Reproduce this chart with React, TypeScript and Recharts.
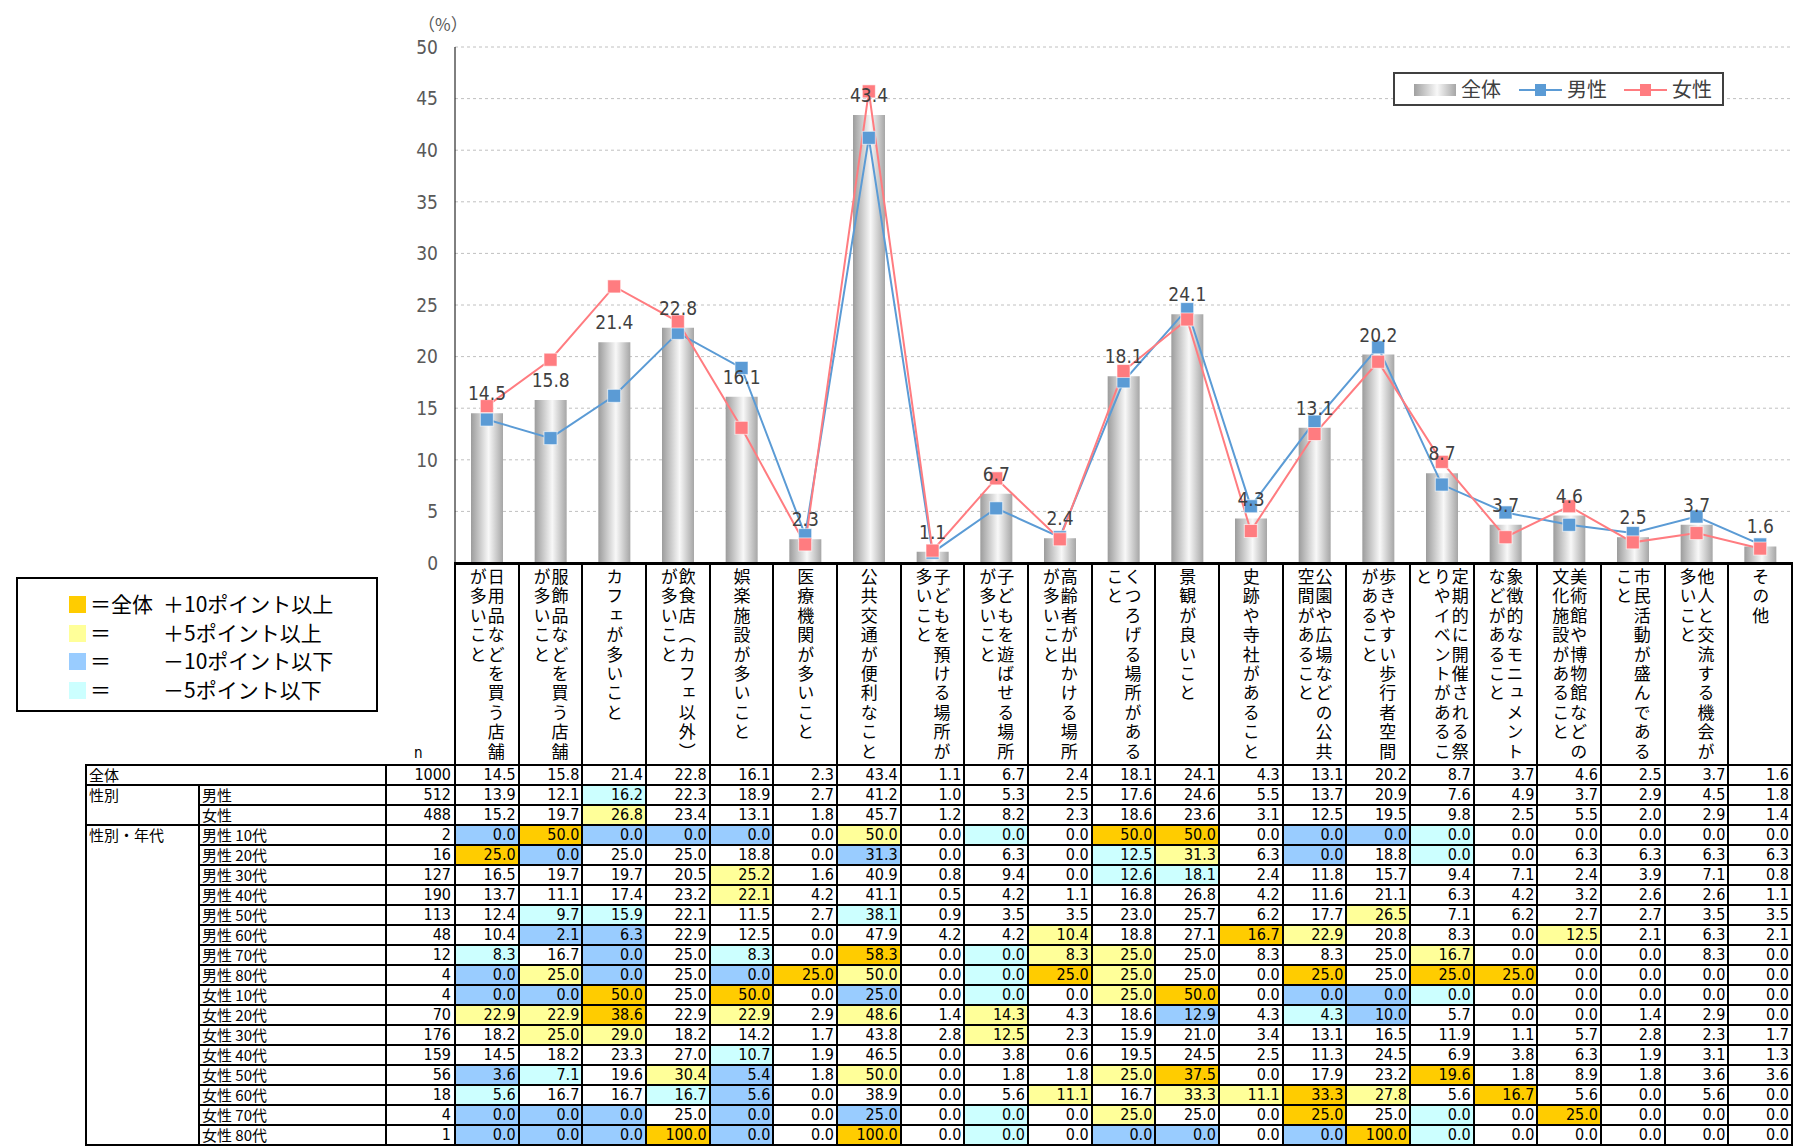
import React from 'react';
import { ComposedChart, Bar, Line, XAxis, YAxis, CartesianGrid, LabelList } from 'recharts';

const categories = [
  '日用品などを買う店舗が多いこと',
  '服飾品などを買う店舗が多いこと',
  'カフェが多いこと',
  '飲食店（カフェ以外）が多いこと',
  '娯楽施設が多いこと',
  '医療機関が多いこと',
  '公共交通が便利なこと',
  '子どもを預ける場所が多いこと',
  '子どもを遊ばせる場所が多いこと',
  '高齢者が出かける場所が多いこと',
  'くつろげる場所があること',
  '景観が良いこと',
  '史跡や寺社があること',
  '公園や広場などの公共空間があること',
  '歩きやすい歩行者空間があること',
  '定期的に開催される祭りやイベントがあること',
  '象徴的なモニュメントなどがあること',
  '美術館や博物館などの文化施設があること',
  '市民活動が盛んであること',
  '他人と交流する機会が多いこと',
  'その他',
];

const totalValues = [14.5, 15.8, 21.4, 22.8, 16.1, 2.3, 43.4, 1.1, 6.7, 2.4, 18.1, 24.1, 4.3, 13.1, 20.2, 8.7, 3.7, 4.6, 2.5, 3.7, 1.6];
const maleValues = [13.9, 12.1, 16.2, 22.3, 18.9, 2.7, 41.2, 1.0, 5.3, 2.5, 17.6, 24.6, 5.5, 13.7, 20.9, 7.6, 4.9, 3.7, 2.9, 4.5, 1.8];
const femaleValues = [15.2, 19.7, 26.8, 23.4, 13.1, 1.8, 45.7, 1.2, 8.2, 2.3, 18.6, 23.6, 3.1, 12.5, 19.5, 9.8, 2.5, 5.5, 2.0, 2.9, 1.4];
const yTicks = [0, 5, 10, 15, 20, 25, 30, 35, 40, 45, 50];

// table rows (性別・年代)
const m10 = [0.0, 50.0, 0.0, 0.0, 0.0, 0.0, 50.0, 0.0, 0.0, 0.0, 50.0, 50.0, 0.0, 0.0, 0.0, 0.0, 0.0, 0.0, 0.0, 0.0, 0.0];
const m20 = [25.0, 0.0, 25.0, 25.0, 18.8, 0.0, 31.3, 0.0, 6.3, 0.0, 12.5, 31.3, 6.3, 0.0, 18.8, 0.0, 0.0, 6.3, 6.3, 6.3, 6.3];
const m30 = [16.5, 19.7, 19.7, 20.5, 25.2, 1.6, 40.9, 0.8, 9.4, 0.0, 12.6, 18.1, 2.4, 11.8, 15.7, 9.4, 7.1, 2.4, 3.9, 7.1, 0.8];
const m40 = [13.7, 11.1, 17.4, 23.2, 22.1, 4.2, 41.1, 0.5, 4.2, 1.1, 16.8, 26.8, 4.2, 11.6, 21.1, 6.3, 4.2, 3.2, 2.6, 2.6, 1.1];
const m50 = [12.4, 9.7, 15.9, 22.1, 11.5, 2.7, 38.1, 0.9, 3.5, 3.5, 23.0, 25.7, 6.2, 17.7, 26.5, 7.1, 6.2, 2.7, 2.7, 3.5, 3.5];
const m60 = [10.4, 2.1, 6.3, 22.9, 12.5, 0.0, 47.9, 4.2, 4.2, 10.4, 18.8, 27.1, 16.7, 22.9, 20.8, 8.3, 0.0, 12.5, 2.1, 6.3, 2.1];
const m70 = [8.3, 16.7, 0.0, 25.0, 8.3, 0.0, 58.3, 0.0, 0.0, 8.3, 25.0, 25.0, 8.3, 8.3, 25.0, 16.7, 0.0, 0.0, 0.0, 8.3, 0.0];
const m80 = [0.0, 25.0, 0.0, 25.0, 0.0, 25.0, 50.0, 0.0, 0.0, 25.0, 25.0, 25.0, 0.0, 25.0, 25.0, 25.0, 25.0, 0.0, 0.0, 0.0, 0.0];
const f10 = [0.0, 0.0, 50.0, 25.0, 50.0, 0.0, 25.0, 0.0, 0.0, 0.0, 25.0, 50.0, 0.0, 0.0, 0.0, 0.0, 0.0, 0.0, 0.0, 0.0, 0.0];
const f20 = [22.9, 22.9, 38.6, 22.9, 22.9, 2.9, 48.6, 1.4, 14.3, 4.3, 18.6, 12.9, 4.3, 4.3, 10.0, 5.7, 0.0, 0.0, 1.4, 2.9, 0.0];
const f30 = [18.2, 25.0, 29.0, 18.2, 14.2, 1.7, 43.8, 2.8, 12.5, 2.3, 15.9, 21.0, 3.4, 13.1, 16.5, 11.9, 1.1, 5.7, 2.8, 2.3, 1.7];
const f40 = [14.5, 18.2, 23.3, 27.0, 10.7, 1.9, 46.5, 0.0, 3.8, 0.6, 19.5, 24.5, 2.5, 11.3, 24.5, 6.9, 3.8, 6.3, 1.9, 3.1, 1.3];
const f50 = [3.6, 7.1, 19.6, 30.4, 5.4, 1.8, 50.0, 0.0, 1.8, 1.8, 25.0, 37.5, 0.0, 17.9, 23.2, 19.6, 1.8, 8.9, 1.8, 3.6, 3.6];
const f60 = [5.6, 16.7, 16.7, 16.7, 5.6, 0.0, 38.9, 0.0, 5.6, 11.1, 16.7, 33.3, 11.1, 33.3, 27.8, 5.6, 16.7, 5.6, 0.0, 5.6, 0.0];
const f70 = [0.0, 0.0, 0.0, 25.0, 0.0, 0.0, 25.0, 0.0, 0.0, 0.0, 25.0, 25.0, 0.0, 25.0, 25.0, 0.0, 0.0, 25.0, 0.0, 0.0, 0.0];
const f80 = [0.0, 0.0, 0.0, 100.0, 0.0, 0.0, 100.0, 0.0, 0.0, 0.0, 0.0, 0.0, 0.0, 0.0, 100.0, 0.0, 0.0, 0.0, 0.0, 0.0, 0.0];

const rowLabels = ['全体', '男性', '女性', '男性 10代', '男性 20代', '男性 30代', '男性 40代', '男性 50代', '男性 60代', '男性 70代', '男性 80代',
  '女性 10代', '女性 20代', '女性 30代', '女性 40代', '女性 50代', '女性 60代', '女性 70代', '女性 80代'];
const rowN = [1000, 512, 488, 2, 16, 127, 190, 113, 48, 12, 4, 4, 70, 176, 159, 56, 18, 4, 1];
const rowValues = [totalValues, maleValues, femaleValues, m10, m20, m30, m40, m50, m60, m70, m80, f10, f20, f30, f40, f50, f60, f70, f80];

const legendRows = [
  { color: '#FFCC00', head: '＝全体', tail: '＋10ポイント以上' },
  { color: '#FFFF99', head: '＝', tail: '＋5ポイント以上' },
  { color: '#99CCFF', head: '＝', tail: '－10ポイント以下' },
  { color: '#CCFFFF', head: '＝', tail: '－5ポイント以下' },
];

const NUM_FONT = "'Liberation Sans Narrow', 'DejaVu Sans Condensed', 'Noto Sans CJK JP', sans-serif";
const JP_FONT = "'Noto Sans CJK JP', sans-serif";
const MALE = '#5B9BD5';
const FEMALE = '#FF7C80';

const W = 1793;
const PLOT_L = 455;
const PLOT_R = 1792;
const SLOT = (PLOT_R - PLOT_L) / categories.length;
const AXIS_Y = 563;
const TABLE_TOP = 765;
const ROW_H = 20;
const COL_X = [86, 199, 386, 455];
const CHART_H = 600;

const chartData = categories.map((name, i) => ({
  name,
  total: totalValues[i],
  male: maleValues[i],
  female: femaleValues[i],
}));

const highlight = (v: number, base: number) => {
  const d = Math.round((v - base) * 10) / 10;
  if (d >= 10) return '#FFCC00';
  if (d >= 5) return '#FFFF99';
  if (d <= -10) return '#99CCFF';
  if (d <= -5) return '#CCFFFF';
  return undefined;
};

const squareDot = (color: string) => (p: any) => {
  if (p.cx == null || p.cy == null) return <g key={p.key} />;
  return (
    <rect key={p.key} x={p.cx - 6.5} y={p.cy - 6.5} width={13} height={13}
      fill={color} stroke="#ffffff" strokeOpacity={0.6} strokeWidth={1} />
  );
};

const chunk = (s: string) => s.match(/.{1,10}/gu) || [s];

const App: React.FC = () => {
  const abs = (style: React.CSSProperties) => ({ position: 'absolute' as const, ...style });
  const lines: React.ReactNode[] = [];

  // category label area borders
  lines.push(<div key="axisTop" style={abs({ left: PLOT_L - 1, top: AXIS_Y - 1, width: PLOT_R - PLOT_L + 2, height: 3, background: '#000' })} />);
  for (let k = 0; k <= categories.length; k++) {
    const x = Math.round(PLOT_L + k * SLOT);
    lines.push(<div key={'cv' + k} style={abs({ left: x - 1, top: AXIS_Y, width: 2, height: TABLE_TOP - AXIS_Y, background: '#000' })} />);
  }

  // table horizontal lines
  for (let r = 0; r <= rowLabels.length; r++) {
    const y = TABLE_TOP + r * ROW_H;
    const interior = r === 2 || (r >= 4 && r <= rowLabels.length - 1);
    const x0 = interior ? COL_X[1] : COL_X[0];
    lines.push(<div key={'h' + r} style={abs({ left: x0 - 1, top: y - 1, width: PLOT_R - x0 + 2, height: 2, background: '#000' })} />);
  }
  // table vertical lines
  const vx = [COL_X[0], COL_X[1], COL_X[2], ...categories.map((_, k) => Math.round(PLOT_L + k * SLOT)), PLOT_R];
  vx.forEach((x, k) => {
    const top = x === COL_X[1] ? TABLE_TOP + ROW_H : TABLE_TOP;
    lines.push(<div key={'v' + k} style={abs({ left: x - 1, top, width: 2, height: TABLE_TOP + rowLabels.length * ROW_H - top, background: '#000' })} />);
  });

  const cells: React.ReactNode[] = [];
  rowValues.forEach((vals, r) => {
    const y = TABLE_TOP + r * ROW_H;
    vals.forEach((v, j) => {
      const x0 = PLOT_L + j * SLOT;
      const bg = r === 0 ? undefined : highlight(v, totalValues[j]);
      cells.push(
        <div key={`c${r}-${j}`} style={abs({
          left: x0 + 1, top: y, width: SLOT - 1, height: ROW_H, background: bg,
          textAlign: 'right', lineHeight: ROW_H + 'px', fontSize: 16, fontFamily: NUM_FONT,
          paddingRight: 3, boxSizing: 'border-box', color: '#000',
        })}>{v.toFixed(1)}</div>
      );
    });
    cells.push(
      <div key={'n' + r} style={abs({ left: COL_X[2], top: y, width: COL_X[3] - COL_X[2], height: ROW_H, textAlign: 'right', lineHeight: ROW_H + 'px', fontSize: 16, fontFamily: NUM_FONT, paddingRight: 4, boxSizing: 'border-box' })}>{rowN[r]}</div>
    );
    cells.push(
      <div key={'l' + r} style={abs({ left: r === 0 ? COL_X[0] + 3 : COL_X[1] + 3, top: y, height: ROW_H, lineHeight: ROW_H + 'px', fontSize: 15, fontFamily: JP_FONT, whiteSpace: 'pre' })}>{rowLabels[r]}</div>
    );
  });
  [['性別', 1], ['性別・年代', 3]].forEach(([t, r]) => {
    cells.push(
      <div key={'g' + t} style={abs({ left: COL_X[0] + 3, top: TABLE_TOP + (r as number) * ROW_H, lineHeight: ROW_H + 'px', fontSize: 15, fontFamily: JP_FONT })}>{t}</div>
    );
  });

  return (
    <div style={{ position: 'relative', width: W, height: 1146, background: '#fff', overflow: 'hidden', fontFamily: JP_FONT }}>
      <style>{'body{margin:0}'}</style>
      <div style={abs({ left: 0, top: 0 })}>
        <ComposedChart width={W} height={CHART_H} data={chartData} margin={{ top: 47, right: W - PLOT_R, left: 0, bottom: CHART_H - AXIS_Y }}>
          <defs>
            <linearGradient id="barGrad" x1="0" y1="0" x2="1" y2="0">
              <stop offset="0%" stopColor="#9C9C9C" />
              <stop offset="55%" stopColor="#F8F8F8" />
              <stop offset="100%" stopColor="#A6A6A6" />
            </linearGradient>
          </defs>
          <CartesianGrid vertical={false} stroke="#C0C0C0" strokeDasharray="3 3" />
          <XAxis dataKey="name" hide />
          <YAxis width={PLOT_L} domain={[0, 50]} ticks={yTicks} interval={0}
            axisLine={{ stroke: '#000', strokeWidth: 1 }} tickLine={false} tickSize={0} tickMargin={17}
            tick={{ fill: '#595959', fontSize: 19, fontFamily: NUM_FONT }} />
          <Bar dataKey="total" barSize={32} fill="url(#barGrad)" isAnimationActive={false}>
            <LabelList dataKey="total" position="top" offset={13} fill="#404040" fontSize={19} fontFamily={NUM_FONT}
              formatter={(v: any) => Number(v).toFixed(1)} />
          </Bar>
          <Line type="linear" dataKey="male" stroke={MALE} strokeWidth={2} dot={squareDot(MALE)} activeDot={false} isAnimationActive={false} />
          <Line type="linear" dataKey="female" stroke={FEMALE} strokeWidth={2} dot={squareDot(FEMALE)} activeDot={false} isAnimationActive={false} />
        </ComposedChart>
      </div>

      <div style={abs({ left: 418, top: 11, fontSize: 17, color: '#595959' })}>（%）</div>

      {/* series legend */}
      <div style={abs({ left: 1393, top: 72, width: 331, height: 34, border: '2px solid #404040', boxSizing: 'border-box', background: '#fff' })}>
        <div style={abs({ left: 19, top: 10, width: 42, height: 12, background: 'linear-gradient(to right, #A0A0A0, #F8F8F8 55%, #A6A6A6)' })} />
        <div style={abs({ left: 66, top: 2, fontSize: 20, lineHeight: '26px', color: '#404040' })}>全体</div>
        <div style={abs({ left: 124, top: 15, width: 43, height: 2, background: MALE })} />
        <div style={abs({ left: 140, top: 10, width: 11, height: 12, background: MALE })} />
        <div style={abs({ left: 172, top: 2, fontSize: 20, lineHeight: '26px', color: '#404040' })}>男性</div>
        <div style={abs({ left: 229, top: 15, width: 43, height: 2, background: FEMALE })} />
        <div style={abs({ left: 245, top: 10, width: 11, height: 12, background: FEMALE })} />
        <div style={abs({ left: 277, top: 2, fontSize: 20, lineHeight: '26px', color: '#404040' })}>女性</div>
      </div>

      {/* highlight legend */}
      <div style={abs({ left: 16, top: 577, width: 362, height: 135, border: '2px solid #000', boxSizing: 'border-box' })}>
        {legendRows.map((row, i) => (
          <React.Fragment key={i}>
            <div style={abs({ left: 51, top: 17 + i * 28.7, width: 17, height: 17, background: row.color })} />
            <div style={abs({ left: 72, top: 11 + i * 28.7, fontSize: 21, lineHeight: '26px', color: '#000' })}>{row.head}</div>
            <div style={abs({ left: 145, top: 11 + i * 28.7, fontSize: 21, lineHeight: '26px', color: '#000' })}>{row.tail}</div>
          </React.Fragment>
        ))}
      </div>

      {/* vertical category labels */}
      {categories.map((c, i) => (
        <div key={'cat' + i} style={abs({
          left: PLOT_L + i * SLOT, top: AXIS_Y + 5, width: SLOT, height: TABLE_TOP - AXIS_Y - 5,
          display: 'flex', flexDirection: 'row-reverse', justifyContent: 'center',
        })}>
          {chunk(c).map((part, k) => (
            <div key={k} style={{ writingMode: 'vertical-rl', fontSize: 17, letterSpacing: 2.4, width: 18, lineHeight: '18px', color: '#000', fontFamily: JP_FONT }}>{part}</div>
          ))}
        </div>
      ))}

      <div style={abs({ left: 414, top: 744, fontSize: 15, fontFamily: NUM_FONT })}>n</div>

      {cells}
      {lines}
    </div>
  );
};

export default App;
